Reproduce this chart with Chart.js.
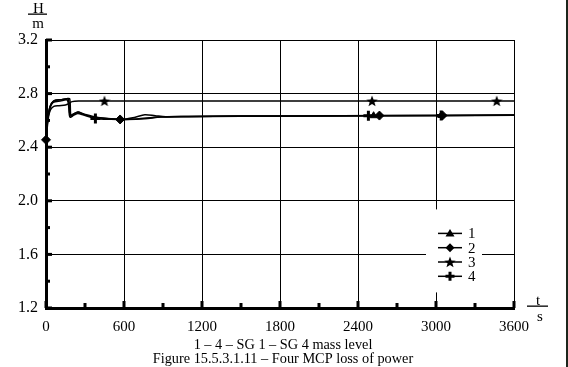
<!DOCTYPE html>
<html>
<head>
<meta charset="utf-8">
<script src="https://cdn.jsdelivr.net/npm/chart.js@4/dist/chart.umd.min.js"></script>
<style>
  html, body { margin: 0; padding: 0; background: #fff; }
  #wrap { position: relative; width: 568px; height: 367px; }
</style>
</head>
<body>
<div id="wrap"><canvas id="c" width="568" height="367"></canvas></div>
<script>
// ---- data ----
const seriesLabels = ["1", "2", "3", "4"];
const xTicks = [0, 600, 1200, 1800, 2400, 3000, 3600];
const yTicks = [1.2, 1.6, 2.0, 2.4, 2.8, 3.2];

// Series 1 (triangle)
const s1T = [0, 10, 25, 45, 70, 120, 160, 182, 192, 215, 245, 280, 330, 400, 500, 600, 680, 760, 840, 920, 1100, 1500, 2000, 2520, 3040, 3600];
const s1H = [2.455, 2.58, 2.68, 2.73, 2.75, 2.755, 2.762, 2.762, 2.632, 2.648, 2.662, 2.648, 2.632, 2.62, 2.612, 2.61, 2.622, 2.642, 2.635, 2.628, 2.63, 2.632, 2.633, 2.635, 2.637, 2.64];
const s1Marks = [23, 24];

// Series 2 (diamond)
const s2T = [0, 12, 30, 60, 120, 170, 186, 220, 250, 300, 400, 570, 700, 820, 900, 1100, 1500, 2000, 2565, 3050, 3600];
const s2H = [2.455, 2.6, 2.7, 2.745, 2.755, 2.758, 2.64, 2.652, 2.662, 2.645, 2.622, 2.607, 2.61, 2.622, 2.628, 2.63, 2.632, 2.633, 2.636, 2.637, 2.64];
const s2Marks = [0, 11, 18, 19];

// Series 3 (star)
const s3T = [0, 10, 20, 35, 60, 100, 150, 175, 200, 250, 450, 2508, 3467, 3600];
const s3H = [2.455, 2.55, 2.63, 2.68, 2.705, 2.71, 2.715, 2.725, 2.74, 2.745, 2.745, 2.745, 2.745, 2.745];
const s3Marks = [10, 11, 12];

// Series 4 (plus)
const s4T = [0, 12, 30, 55, 110, 165, 184, 215, 245, 290, 380, 500, 620, 760, 880, 1000, 1500, 2000, 2480, 3040, 3600];
const s4H = [2.455, 2.59, 2.69, 2.735, 2.745, 2.75, 2.625, 2.64, 2.652, 2.64, 2.615, 2.608, 2.606, 2.612, 2.625, 2.628, 2.631, 2.632, 2.634, 2.636, 2.638];
const s4Marks = [10, 18, 19];

// ---- helpers ----
function toPoints(ts, hs) { return ts.map((t, i) => ({ x: t, y: hs[i] })); }
function starCanvas(size) {
  const c = document.createElement('canvas');
  c.width = size; c.height = size;
  const g = c.getContext('2d');
  const cx = size / 2, cy = size / 2 + 0.5, R = size / 2, r = R * 0.42;
  g.beginPath();
  for (let i = 0; i < 10; i++) {
    const a = -Math.PI / 2 + i * Math.PI / 5;
    const rr = i % 2 === 0 ? R : r;
    g.lineTo(cx + rr * Math.cos(a), cy + rr * Math.sin(a));
  }
  g.closePath();
  g.fillStyle = '#000';
  g.fill();
  return c;
}
const star = starCanvas(12);

const serif = "'Liberation Serif', 'Times New Roman', serif";
const styles = [
  { style: 'triangle', r: 4, bw: 1 },
  { style: 'rectRot', r: 4.5, bw: 1 },
  { style: star, r: 6, bw: 1 },
  { style: 'cross', r: 5, bw: 3 }
];
const allT = [s1T, s2T, s3T, s4T];
const allH = [s1H, s2H, s3H, s4H];
const allM = [s1Marks, s2Marks, s3Marks, s4Marks];

const datasets = seriesLabels.map((lab, k) => ({
  label: lab,
  data: toPoints(allT[k], allH[k]),
  borderColor: '#000',
  backgroundColor: '#000',
  borderWidth: 1.5,
  tension: 0.3,
  clip: false,
  pointStyle: styles[k].style,
  pointBorderColor: '#000',
  pointBackgroundColor: '#000',
  pointBorderWidth: styles[k].bw,
  pointRadius: ctx => allM[k].includes(ctx.dataIndex) ? styles[k].r : 0,
  pointHoverRadius: 0
}));

function drawMarker(ctx, k, x, y) {
  ctx.save();
  ctx.fillStyle = '#000'; ctx.strokeStyle = '#000';
  if (k === 0) {
    ctx.beginPath();
    ctx.moveTo(x, y - 4.5); ctx.lineTo(x + 4.5, y + 3); ctx.lineTo(x - 4.5, y + 3); ctx.closePath(); ctx.fill();
  } else if (k === 1) {
    ctx.beginPath();
    ctx.moveTo(x, y - 4.5); ctx.lineTo(x + 4.5, y); ctx.lineTo(x, y + 4.5); ctx.lineTo(x - 4.5, y); ctx.closePath(); ctx.fill();
  } else if (k === 2) {
    ctx.drawImage(star, x - 6, y - 6, 12, 12);
  } else {
    ctx.lineWidth = 3;
    ctx.beginPath();
    ctx.moveTo(x - 4.5, y); ctx.lineTo(x + 4.5, y); ctx.moveTo(x, y - 4.5); ctx.lineTo(x, y + 4.5); ctx.stroke();
  }
  ctx.restore();
}

const decor = {
  id: 'decor',
  afterDraw(chart) {
    const ctx = chart.ctx;
    const xs = chart.scales.x, ys = chart.scales.y;
    const ca = chart.chartArea;
    ctx.save();
    ctx.fillStyle = '#000';
    // minor/major ticks on x axis
    for (let v = 0; v <= 3600; v += 300) {
      const px = xs.getPixelForValue(v);
      const h = v % 600 === 0 ? 7 : 5;
      ctx.fillRect(px - 1.5, ca.bottom - h, 3, h);
    }
    // ticks on y axis
    for (let i = 0; i <= 10; i++) {
      const py = ys.getPixelForValue(1.2 + i * 0.2);
      const w = i % 2 === 0 ? 6 : 4;
      ctx.fillRect(ca.left, py - 1.5, w, 3);
    }
    // legend box
    const lx = xs.getPixelForValue(3000) - 9, ly = ys.getPixelForValue(1.6) - 45;
    ctx.fillStyle = '#fff';
    ctx.fillRect(lx - 1, ly, 56, 83);
    ctx.font = '15px ' + serif;
    ctx.textBaseline = 'middle';
    for (let k = 0; k < 4; k++) {
      const y = ly + 24 + k * 14.3;
      ctx.strokeStyle = '#000'; ctx.lineWidth = 1.5;
      ctx.beginPath(); ctx.moveTo(lx + 11, y); ctx.lineTo(lx + 35, y); ctx.stroke();
      drawMarker(ctx, k, lx + 23, y);
      ctx.fillStyle = '#000';
      ctx.textAlign = 'left';
      ctx.fillText(seriesLabels[k], lx + 41, y + 1);
    }
    // axis unit labels
    ctx.fillStyle = '#000';
    ctx.textAlign = 'center';
    ctx.textBaseline = 'alphabetic';
    ctx.font = '15px ' + serif;
    ctx.fillText('H', 38.5, 13);
    ctx.fillRect(28, 13.5, 19, 1.3);
    ctx.fillText('m', 38, 28);
    ctx.fillText('t', 538, 305);
    ctx.fillRect(527, 305.5, 21, 1.3);
    ctx.fillText('s', 540, 321);
    // captions
    ctx.font = '14.3px ' + serif;
    ctx.fillText('1 \u2013 4 \u2013 SG 1 \u2013 SG 4 mass level', 283, 349);
    ctx.fillText('Figure 15.5.3.1.11 \u2013 Four MCP loss of power', 283, 363);
    // right frame edge
    ctx.fillStyle = '#1c261c';
    ctx.fillRect(566, 0, 2, 367);
    ctx.restore();
  }
};

new Chart(document.getElementById('c'), {
  type: 'line',
  data: { datasets },
  plugins: [decor],
  options: {
    responsive: false,
    animation: false,
    devicePixelRatio: 1,
    layout: { padding: { left: 0, top: 40, right: 54, bottom: 0 } },
    plugins: { legend: { display: false }, tooltip: { enabled: false } },
    scales: {
      x: {
        type: 'linear', min: 0, max: 3600,
        afterBuildTicks: s => { s.ticks = xTicks.map(v => ({ value: v })); },
        afterFit: s => { s.height = 59; },
        grid: { color: '#000', lineWidth: 1, drawTicks: false },
        border: { display: true, color: '#000', width: 3 },
        ticks: { color: '#000', padding: 10, maxRotation: 0, font: { family: serif, size: 15 }, callback: v => String(v) }
      },
      y: {
        type: 'linear', min: 1.2, max: 3.2,
        afterBuildTicks: s => { s.ticks = yTicks.map(v => ({ value: v })); },
        afterFit: s => { s.width = 46; },
        grid: { color: '#000', lineWidth: 1, drawTicks: false },
        border: { display: true, color: '#000', width: 3 },
        ticks: { color: '#000', padding: 8, font: { family: serif, size: 16 }, callback: v => Number(v).toFixed(1) }
      }
    }
  }
});
</script>
</body>
</html>
